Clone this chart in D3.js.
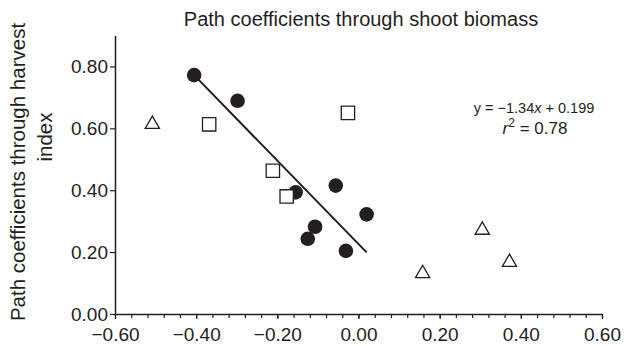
<!DOCTYPE html>
<html>
<head>
<meta charset="utf-8">
<script src="https://cdn.jsdelivr.net/npm/d3@7"></script>
<style>
  body { margin: 0; background: #fff; }
  svg { display: block; font-family: "Liberation Sans", Arial, sans-serif; }
</style>
</head>
<body>
<div id="chart"></div>
<script>
// values
const circleX = [-0.405, -0.298, -0.155, -0.056, 0.020, -0.107, -0.125, -0.031];
const circleY = [0.772, 0.689, 0.393, 0.415, 0.322, 0.282, 0.243, 0.204];
const squareX = [-0.368, -0.026, -0.211, -0.177];
const squareY = [0.613, 0.650, 0.463, 0.380];
const triangleX = [-0.508, 0.305, 0.372, 0.158];
const triangleY = [0.613, 0.271, 0.167, 0.131];
const fitX = [-0.405, 0.020];
const fitY = [0.772, 0.199];
const xTicks = [-0.6, -0.4, -0.2, 0, 0.2, 0.4, 0.6];
const yTicks = [0, 0.2, 0.4, 0.6, 0.8];

const width = 642, height = 346;
const ink = '#231f20';
const tickFont = '19px';

const svg = d3.select('#chart').append('svg')
    .attr('width', width)
    .attr('height', height);

const x = d3.scaleLinear().domain([-0.6, 0.6]).range([115, 602]);
const y = d3.scaleLinear().domain([0, 0.9]).range([314, 35.5]);
const fmt = d3.format('.2f');

// title
svg.append('text')
    .attr('x', 361)
    .attr('y', 26)
    .attr('text-anchor', 'middle')
    .style('font-size', '20px')
    .style('fill', ink)
    .text('Path coefficients through shoot biomass');

// y axis label, two lines
const yLab = svg.append('g').attr('transform', 'rotate(-90)');
yLab.append('text')
    .attr('x', -172)
    .attr('y', 25)
    .attr('text-anchor', 'middle')
    .style('font-size', '20.5px')
    .style('fill', ink)
    .text('Path coefficients through harvest');
yLab.append('text')
    .attr('x', -137)
    .attr('y', 52)
    .attr('text-anchor', 'middle')
    .style('font-size', '20.5px')
    .style('fill', ink)
    .text('index');

// x axis: minor ticks then major ticks
const minor = d3.range(-0.6, 0.6001, 0.04);
const xMinor = svg.append('g')
    .attr('transform', 'translate(0,' + y(0) + ')')
    .call(d3.axisBottom(x).tickValues(minor).tickSize(4).tickFormat(''));
xMinor.select('.domain').remove();
xMinor.selectAll('line').attr('stroke', ink).attr('stroke-width', 1.2);

const xAxis = svg.append('g')
    .attr('transform', 'translate(0,' + y(0) + ')')
    .call(d3.axisBottom(x).tickValues(xTicks).tickSize(5).tickSizeOuter(0).tickPadding(9).tickFormat(fmt));
xAxis.select('.domain').attr('stroke', ink).attr('stroke-width', 1.5);
xAxis.selectAll('line').attr('stroke', ink).attr('stroke-width', 1.2);
xAxis.selectAll('text')
    .style('font-size', tickFont)
    .style('font-family', '"Liberation Sans", Arial, sans-serif')
    .style('fill', ink);

const yAxis = svg.append('g')
    .attr('transform', 'translate(' + x(-0.6) + ',0)')
    .call(d3.axisLeft(y).tickValues(yTicks).tickSize(5).tickSizeOuter(0).tickPadding(2).tickFormat(fmt));
yAxis.select('.domain').attr('stroke', ink).attr('stroke-width', 1.5);
yAxis.selectAll('line').attr('stroke', ink).attr('stroke-width', 1.2);
yAxis.selectAll('text')
    .style('font-size', tickFont)
    .style('font-family', '"Liberation Sans", Arial, sans-serif')
    .style('fill', ink);

// regression line
svg.append('line')
    .attr('x1', x(fitX[0]))
    .attr('y1', y(fitY[0]))
    .attr('x2', x(fitX[1]))
    .attr('y2', y(fitY[1]))
    .attr('stroke', ink)
    .attr('stroke-width', 2);

// filled circles
svg.append('g')
    .selectAll('circle')
    .data(circleX)
    .enter()
    .append('circle')
    .attr('cx', d => x(d))
    .attr('cy', (d, i) => y(circleY[i]))
    .attr('r', 7.3)
    .attr('fill', ink);

// open squares
svg.append('g')
    .selectAll('path')
    .data(squareX)
    .enter()
    .append('path')
    .attr('transform', (d, i) => 'translate(' + x(d) + ',' + y(squareY[i]) + ')')
    .attr('d', d3.symbol(d3.symbolSquare, 178))
    .attr('fill', '#fff')
    .attr('stroke', ink)
    .attr('stroke-width', 1.3);

// open triangles
svg.append('g')
    .selectAll('path')
    .data(triangleX)
    .enter()
    .append('path')
    .attr('transform', (d, i) => 'translate(' + x(d) + ',' + y(triangleY[i]) + ')')
    .attr('d', d3.symbol(d3.symbolTriangle, 88))
    .attr('fill', '#fff')
    .attr('stroke', ink)
    .attr('stroke-width', 1.3);

// equation
const eq = svg.append('text')
    .attr('x', 534)
    .attr('y', 113)
    .attr('text-anchor', 'middle')
    .style('font-size', '14.5px')
    .style('fill', ink);
eq.append('tspan').text('y = \u22121.34');
eq.append('tspan').style('font-style', 'italic').text('x');
eq.append('tspan').text(' + 0.199');

const r2 = svg.append('text')
    .attr('x', 535)
    .attr('y', 134)
    .attr('text-anchor', 'middle')
    .style('font-size', '17px')
    .style('fill', ink);
r2.append('tspan').style('font-style', 'italic').text('r');
r2.append('tspan').attr('dy', -7).style('font-size', '12px').text('2');
r2.append('tspan').attr('dy', 7).text(' = 0.78');
</script>
</body>
</html>
